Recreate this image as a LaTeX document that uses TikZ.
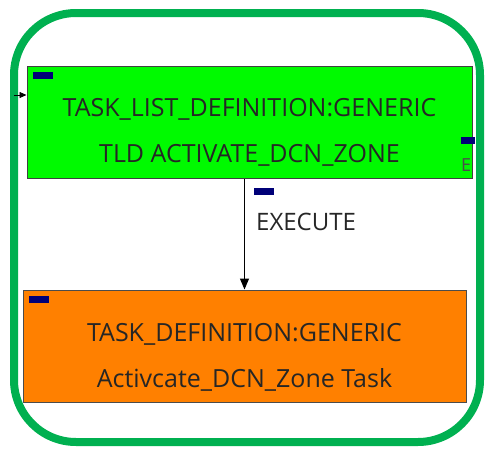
\documentclass[tikz,border=0pt]{standalone}
\usepackage{tikz}
\usetikzlibrary{arrows.meta,positioning,calc}
\usepackage{fontspec}
\setmainfont{Open Sans}
\usepackage{xcolor}
\definecolor{FrameGreen}{RGB}{0,176,80}
\definecolor{ListGreen}{RGB}{0,250,0}
\definecolor{TaskOrange}{RGB}{255,128,0}
\definecolor{MarkBlue}{RGB}{0,0,120}
\tikzset{
  frame/.style={draw=FrameGreen, line width=8pt, rounded corners=62pt},
  boxtext/.style={font=\fontsize{25}{46}\selectfont, text=black!85},
  listbox/.style={draw=black!75, fill=ListGreen, line width=1pt,
    minimum width=445pt, minimum height=112pt, align=center, boxtext},
  taskbox/.style={draw=black!70, fill=TaskOrange, line width=1pt,
    minimum width=443pt, minimum height=112pt, align=center, boxtext},
  marker/.style={fill=MarkBlue, minimum width=20pt, minimum height=7pt,
    inner sep=0pt},
  arrow/.style={-{Triangle[width=9pt,length=11pt]}, line width=1pt}
}

\begin{document}
\begin{tikzpicture}[x=1pt, y=-1pt]
  \useasboundingbox (0,0) rectangle (488,450);
  \draw[frame] (14,13) rectangle (480,442);
  \node[listbox] (list) at (249.5,122) {};
  \node[boxtext, align=center] (listtext) at (249.5,132) {TASK\_LIST\_DEFINITION:GENERIC\\TLD ACTIVATE\_DCN\_ZONE};
  \node[taskbox] (task) at (244.5,346) {};
  \node[boxtext, align=center] (tasktext) at (244.5,357) {TASK\_DEFINITION:GENERIC\\Activcate\_DCN\_Zone Task};
  \node[marker] (listmark) at (43,75) {};
  \node[marker] (taskmark) at (39,299) {};
  \node[marker, minimum width=14pt] (sidemark) at (468,140) {};
  \node[font=\fontsize{18}{18}\selectfont, text=black!70, anchor=north west, inner sep=0pt] (sideE) at (461,158) {E};
  \coordinate (inport) at (14,95);
  \draw[-{Triangle[width=6pt,length=7pt]}, line width=0.8pt] (inport) -- (inport -| list.west);
  \draw[arrow] (list.south -| task.north) -- (task.north)
    node[pos=0.12, right=9pt, marker] (execmark) {};
  \node[font=\fontsize{24}{24}\selectfont, text=black!85, anchor=west, inner sep=0pt] (execlabel) at (256,222) {EXECUTE};
\end{tikzpicture}
\end{document}
